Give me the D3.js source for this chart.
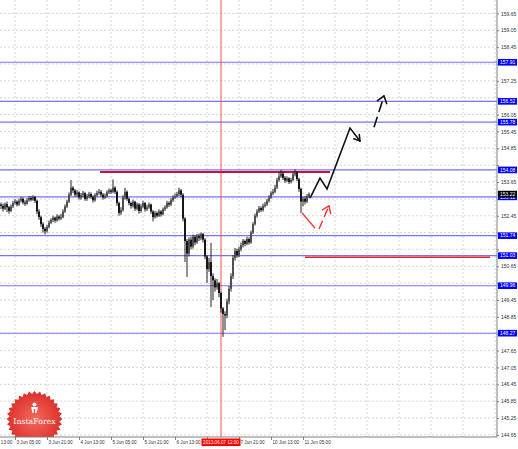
<!DOCTYPE html>
<html>
<head>
<meta charset="utf-8">
<script src="https://cdn.jsdelivr.net/npm/d3@7"></script>
<style>
  html, body { margin: 0; padding: 0; background: #fff; }
  svg { display: block; font-family: "Liberation Sans", Arial, sans-serif; }
</style>
</head>
<body>
<div id="chart"></div>
<script>
/* H1 candle chart with support / resistance levels and a drawn forecast. */

// Hourly bars, index 0 = first visible bar
const firstOpen = 152.85;
const closes = [
  152.80, 152.70, 152.86, 152.75, 152.62, 152.78, 152.90, 152.95, 152.85, 152.98,
  153.05, 152.92, 152.88, 153.00, 153.08, 153.02, 153.12, 152.98, 152.60, 152.40,
  152.15, 151.98, 151.90, 152.05, 152.20, 152.30, 152.38, 152.28, 152.42, 152.35,
  152.40, 152.60, 152.78, 152.95, 153.20, 153.45, 153.35, 153.20, 153.28, 153.10,
  153.18, 153.25, 153.05, 153.15, 153.22, 153.12, 153.00, 153.18, 153.26, 153.30,
  153.20, 153.10, 153.15, 153.28, 153.35, 153.30, 153.45, 153.30, 152.90, 152.55,
  152.65, 153.10, 153.30, 153.05, 152.90, 152.80, 152.95, 152.70, 152.85, 152.62,
  152.78, 152.90, 152.68, 152.75, 152.85, 152.60, 152.40, 152.55, 152.45, 152.60,
  152.50, 152.68, 152.75, 152.90, 152.85, 153.00, 153.10, 153.15, 153.22, 153.35,
  153.20, 152.35, 151.55, 151.10, 151.60, 151.35, 151.70, 151.50, 151.72, 151.65,
  151.80, 151.60, 151.00, 150.55, 150.80, 150.30, 150.15, 149.90, 150.05, 149.70,
  149.15, 148.95, 148.90, 149.40, 149.85, 150.30, 150.95, 151.20, 151.05, 151.25,
  151.40, 151.55, 151.45, 151.62, 151.50, 151.85, 152.15, 152.45, 152.60, 152.72,
  152.65, 152.80, 152.85, 152.98, 153.10, 153.25, 153.30, 153.45, 153.72, 153.85,
  153.95, 153.80, 153.70, 153.78, 153.65, 153.72, 153.92, 154.00, 153.75, 153.40,
  152.95, 153.05, 152.95, 153.15, 153.22
];
const highs = [
  152.92, 152.88, 152.92, 152.95, 152.80, 152.85, 152.98, 153.05, 153.00, 153.06,
  153.12, 153.10, 153.00, 153.08, 153.15, 153.14, 153.18, 153.15, 153.02, 152.68,
  152.45, 152.22, 152.05, 152.12, 152.28, 152.36, 152.45, 152.42, 152.50, 152.48,
  152.52, 152.68, 152.85, 153.02, 153.28, 153.72, 153.50, 153.40, 153.36, 153.32,
  153.26, 153.33, 153.30, 153.22, 153.30, 153.28, 153.18, 153.25, 153.34, 153.40,
  153.36, 153.26, 153.24, 153.35, 153.42, 153.40, 153.74, 153.50, 153.35, 152.95,
  152.75, 153.18, 153.44, 153.35, 153.10, 152.95, 153.02, 152.98, 152.92, 152.90,
  152.86, 152.98, 152.94, 152.84, 152.92, 152.88, 152.65, 152.62, 152.60, 152.68,
  152.65, 152.74, 152.82, 152.98, 152.96, 153.08, 153.18, 153.24, 153.30, 153.45,
  153.40, 153.25, 152.40, 151.62, 151.68, 151.70, 151.78, 151.75, 151.80, 151.82,
  151.85, 151.84, 151.65, 151.05, 150.95, 151.48, 150.40, 150.22, 150.20, 150.10,
  149.75, 149.20, 149.05, 149.50, 149.95, 150.40, 151.05, 151.30, 151.28, 151.35,
  151.50, 151.62, 151.60, 151.70, 151.68, 151.92, 152.22, 152.52, 152.68, 152.80,
  152.78, 152.88, 152.94, 153.05, 153.18, 153.32, 153.40, 153.55, 153.80, 154.00,
  154.08, 154.02, 153.86, 153.85, 153.82, 153.80, 154.00, 154.10, 154.04, 153.80,
  153.45, 153.12, 153.15, 153.22, 153.28
];
const lows = [
  152.68, 152.60, 152.65, 152.58, 152.52, 152.58, 152.72, 152.85, 152.78, 152.80,
  152.92, 152.85, 152.80, 152.84, 152.95, 152.96, 152.98, 152.90, 152.50, 152.30,
  152.05, 151.85, 151.78, 151.85, 152.00, 152.15, 152.22, 152.20, 152.24, 152.28,
  152.30, 152.36, 152.55, 152.72, 152.90, 153.15, 153.25, 153.12, 153.12, 153.02,
  153.02, 153.10, 152.98, 152.98, 153.08, 153.05, 152.92, 152.95, 153.12, 153.20,
  153.12, 153.02, 153.05, 153.10, 153.22, 153.22, 153.25, 153.22, 152.80, 152.45,
  152.48, 152.60, 153.02, 152.98, 152.82, 152.70, 152.74, 152.62, 152.64, 152.52,
  152.56, 152.72, 152.60, 152.62, 152.70, 152.52, 152.25, 152.35, 152.38, 152.40,
  152.42, 152.46, 152.62, 152.70, 152.76, 152.80, 152.94, 153.04, 153.10, 153.15,
  153.10, 152.25, 150.80, 150.27, 151.00, 151.25, 151.28, 151.40, 151.45, 151.55,
  151.58, 151.50, 150.90, 150.06, 150.45, 149.20, 149.45, 149.75, 149.82, 149.55,
  149.00, 148.14, 148.38, 148.80, 149.30, 149.75, 150.20, 150.85, 150.95, 150.98,
  151.18, 151.32, 151.36, 151.40, 151.42, 151.45, 151.80, 152.10, 152.38, 152.55,
  152.58, 152.60, 152.74, 152.80, 152.92, 153.05, 153.18, 153.25, 153.40, 153.66,
  153.80, 153.72, 153.62, 153.64, 153.58, 153.60, 153.68, 153.85, 153.68, 153.30,
  152.55, 152.78, 152.85, 152.90, 153.08
];

// Axis tick labels
const yTicks = [159.65, 159.05, 158.45, 157.85, 157.25, 156.65, 156.05, 155.45, 154.85,
  154.25, 153.65, 153.05, 152.45, 151.85, 151.25, 150.65, 150.05, 149.45, 148.85,
  148.25, 147.65, 147.05, 146.45, 145.85, 145.25, 144.65];
const timeLabels = ['31 May 13:00', '3 Jun 05:00', '3 Jun 21:00', '4 Jun 13:00', '5 Jun 05:00',
  '5 Jun 21:00', '6 Jun 13:00', '7 Jun 05:00', '7 Jun 21:00', '10 Jun 13:00', '11 Jun 05:00'];
const timeIndex = [-9, 7, 23, 39, 55, 71, 87, 103, 119, 135, 151];

// Horizontal levels (blue), resistance (crimson), target (red)
const levels = [157.91, 156.52, 155.78, 154.08, 153.12, 151.74, 151.03, 149.96, 148.27];
const resistance = {from: 49.5, to: 164.5, price: 154.01};
const target = {from: 152, to: 244.5, price: 150.97};
const markerIndex = 110;
const markerLabel = '2013.06.07 12:00';

// Forecast paths (bar index, price)
const bullPath = [[154.5, 153.08], [159.5, 153.79], [163, 153.40], [174.5, 155.57], [179.5, 155.11]];
const bullDashed = [[186.5, 155.60], [191.5, 156.71]];
const bearPath = [[150.5, 152.55], [157, 152.01]];
const bearDashed = [[159, 151.98], [164, 152.80]];

function drawChart() {
  const width = 518, height = 449;
  // plot area, price scale sits to the right, time scale below
  const plot = {right: 497, bottom: 437};

  const svg = d3.select('#chart').append('svg')
    .attr('width', width).attr('height', height);
  svg.append('rect').attr('width', width).attr('height', height).attr('fill', '#fff');

  const defs = svg.append('defs');
  defs.append('clipPath').attr('id', 'plotClip')
    .append('rect').attr('width', plot.right).attr('height', plot.bottom);
  const grad = defs.append('radialGradient').attr('id', 'badgeGrad');
  grad.append('stop').attr('offset', '0%').attr('stop-color', '#f46a5e');
  grad.append('stop').attr('offset', '100%').attr('stop-color', '#dc2f2a');

  // 2px per hourly bar
  const x = d3.scaleLinear().domain([0, 248]).range([1, 497]);
  const y = d3.scaleLinear().domain([144.65, 159.65]).range([434.9, 13.4]);

  const last = closes[closes.length - 1];
  const boxed = levels.concat([last]);

  const g = svg.append('g').attr('clip-path', 'url(#plotClip)');

  // Grid
  g.selectAll('.hgrid').data(yTicks).enter().append('line')
    .attr('x1', 0).attr('x2', plot.right)
    .attr('y1', d => y(d)).attr('y2', d => y(d))
    .attr('stroke', '#c4c4c4').attr('stroke-width', 0.7).attr('stroke-dasharray', '2,2');
  g.selectAll('.vgrid').data(d3.range(7, 248, 16)).enter().append('line')
    .attr('x1', d => x(d)).attr('x2', d => x(d))
    .attr('y1', 0).attr('y2', plot.bottom)
    .attr('stroke', '#c4c4c4').attr('stroke-width', 0.7).attr('stroke-dasharray', '2,2');

  // InstaForex badge
  drawBadge(g, 34.5, 419);

  // Blue levels
  g.selectAll('.level').data(levels).enter().append('line')
    .attr('x1', 0).attr('x2', plot.right)
    .attr('y1', d => y(d)).attr('y2', d => y(d))
    .attr('stroke', '#7474ff').attr('stroke-width', 1.1);

  // Date marker
  g.append('line')
    .attr('x1', x(markerIndex)).attr('x2', x(markerIndex))
    .attr('y1', 0).attr('y2', plot.bottom)
    .attr('stroke', '#ff3a3a').attr('stroke-width', 0.9);

  // Resistance and target lines
  g.append('line')
    .attr('x1', x(resistance.from)).attr('x2', x(resistance.to))
    .attr('y1', y(resistance.price)).attr('y2', y(resistance.price))
    .attr('stroke', '#c8103e').attr('stroke-width', 2);
  g.append('line')
    .attr('x1', x(target.from)).attr('x2', x(target.to))
    .attr('y1', y(target.price)).attr('y2', y(target.price))
    .attr('stroke', '#e8202a').attr('stroke-width', 1.4);

  // Candles
  const bars = closes.map((c, i) => ({
    i: i, open: i === 0 ? firstOpen : closes[i - 1], close: c, high: highs[i], low: lows[i]
  }));
  const candle = g.selectAll('.candle').data(bars).enter().append('g').attr('class', 'candle');
  candle.append('line')
    .attr('x1', d => x(d.i)).attr('x2', d => x(d.i))
    .attr('y1', d => y(d.high)).attr('y2', d => y(d.low))
    .attr('stroke', '#222').attr('stroke-width', 1);
  candle.append('rect')
    .attr('x', d => x(d.i) - 0.9).attr('width', 1.8)
    .attr('y', d => y(Math.max(d.open, d.close)))
    .attr('height', d => Math.max(0.8, Math.abs(y(d.open) - y(d.close))))
    .attr('fill', d => d.close >= d.open ? '#4a4a4a' : '#0a0a0a');

  // Forecast
  const line = d3.line().x(d => x(d[0])).y(d => y(d[1]));
  drawPath(g, line, bullPath, '#111', 1.6, null, 6.5, 0.55);
  drawPath(g, line, bullDashed, '#111', 1.6, '11,5', 8, 0.65);
  drawPath(g, line, bearPath, '#ff2a2a', 1.4, null, 0, 0);
  drawPath(g, line, bearDashed, '#ff2a2a', 1.4, '9,4', 8, 0.62);

  // Axis frame
  svg.append('line').attr('x1', plot.right).attr('x2', plot.right)
    .attr('y1', 0).attr('y2', plot.bottom).attr('stroke', '#808080');
  svg.append('line').attr('x1', 0).attr('x2', plot.right)
    .attr('y1', plot.bottom).attr('y2', plot.bottom).attr('stroke', '#808080');

  // Price scale; labels hidden under a price box are not drawn
  const yAxis = svg.append('g')
    .attr('transform', `translate(${plot.right},0)`)
    .call(d3.axisRight(y).tickValues(yTicks).tickSize(2).tickSizeOuter(0).tickFormat(d3.format('.2f')));
  yAxis.select('.domain').remove();
  yAxis.selectAll('line').attr('stroke', '#808080');
  yAxis.selectAll('text').attr('x', 4).attr('fill', '#333').style('font-size', '5px')
    .filter(d => boxed.some(v => Math.abs(y(v) - y(d)) < 6.8)).remove();

  // Time scale; label under the marker box is not drawn
  const xAxis = svg.append('g')
    .attr('transform', `translate(0,${plot.bottom})`)
    .call(d3.axisBottom(x).tickValues(timeIndex).tickSize(3).tickSizeOuter(0)
      .tickFormat((d, i) => timeLabels[i]));
  xAxis.select('.domain').remove();
  xAxis.selectAll('line').attr('stroke', '#808080');
  xAxis.selectAll('text').attr('text-anchor', 'start').attr('x', 1).attr('y', 4)
    .attr('fill', '#333').style('font-size', '4.6px')
    .filter(d => Math.abs(x(d) + 13 - x(markerIndex)) < 20).remove();

  // Level price boxes
  const box = svg.selectAll('.lvlbox').data(levels).enter().append('g');
  box.append('rect')
    .attr('x', plot.right + 1).attr('y', d => y(d) - 3.3)
    .attr('width', 19).attr('height', 6.6).attr('fill', '#0000ff');
  box.append('text')
    .attr('x', plot.right + 3).attr('y', d => y(d)).attr('dy', '0.35em')
    .attr('fill', '#fff').style('font-size', '5px')
    .text(d => d.toFixed(2));

  // Current price box
  svg.append('rect').attr('x', plot.right + 1).attr('y', y(last) - 3.3)
    .attr('width', 19).attr('height', 6.6).attr('fill', '#000');
  svg.append('text').attr('x', plot.right + 3).attr('y', y(last)).attr('dy', '0.35em')
    .attr('fill', '#fff').style('font-size', '5px').text(last.toFixed(2));

  // Date marker box
  svg.append('rect').attr('x', x(markerIndex) - 19.5).attr('y', plot.bottom + 1.5)
    .attr('width', 39).attr('height', 7.5).attr('fill', '#ff0000');
  svg.append('text').attr('x', x(markerIndex)).attr('y', plot.bottom + 5.3).attr('dy', '0.35em')
    .attr('text-anchor', 'middle').attr('fill', '#fff').style('font-size', '4.6px')
    .text(markerLabel);
}

function drawPath(g, line, pts, color, w, dash, headLen, spread) {
  const p = g.append('path').attr('d', line(pts))
    .attr('fill', 'none').attr('stroke', color).attr('stroke-width', w)
    .attr('stroke-linejoin', 'miter');
  if (dash) p.attr('stroke-dasharray', dash);
  if (!headLen) return;
  // arrow head built from the last segment direction (pixel space)
  const n = p.node().getTotalLength();
  const tip = p.node().getPointAtLength(n);
  const back = p.node().getPointAtLength(n - 3);
  const ang = Math.atan2(tip.y - back.y, tip.x - back.x);
  [-spread, spread].forEach(a => {
    g.append('line')
      .attr('x1', tip.x).attr('y1', tip.y)
      .attr('x2', tip.x - headLen * Math.cos(ang + a))
      .attr('y2', tip.y - headLen * Math.sin(ang + a))
      .attr('stroke', color).attr('stroke-width', w).attr('stroke-linecap', 'round');
  });
}

function drawBadge(g, cx, cy) {
  const spikes = 32, rOut = 28, rIn = 25;
  const pts = [];
  for (let k = 0; k < spikes * 2; k++) {
    const r = k % 2 === 0 ? rOut : rIn;
    const a = Math.PI * k / spikes - Math.PI / 2;
    pts.push([cx + r * Math.cos(a), cy + r * Math.sin(a)]);
  }
  const badge = g.append('g');
  badge.append('path').attr('d', 'M' + pts.join('L') + 'Z').attr('fill', 'url(#badgeGrad)');
  // small white emblem
  badge.append('circle').attr('cx', cx).attr('cy', cy - 14.5).attr('r', 2).attr('fill', '#fff');
  badge.append('path')
    .attr('d', `M${cx - 3.5},${cy - 12} L${cx + 3.5},${cy - 12} L${cx + 2},${cy - 6} L${cx + 0.8},${cy - 6} L${cx + 0.8},${cy - 10} L${cx - 0.8},${cy - 10} L${cx - 0.8},${cy - 6} L${cx - 2},${cy - 6} Z`)
    .attr('fill', '#fff');
  badge.append('text').attr('x', cx).attr('y', cy + 4.5)
    .attr('text-anchor', 'middle').attr('fill', '#fff')
    .style('font-size', '7.8px').style('font-family', '"DejaVu Serif", serif')
    .text('InstaForex');
}

drawChart();
</script>
</body>
</html>
